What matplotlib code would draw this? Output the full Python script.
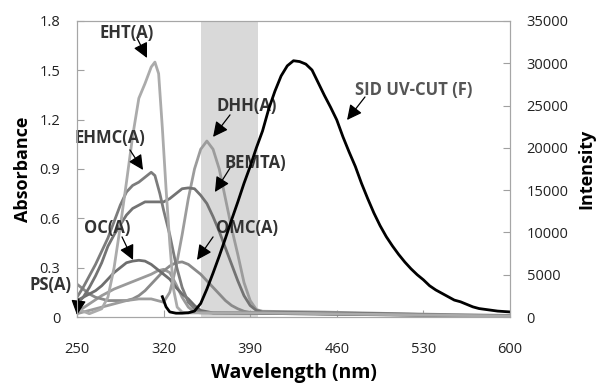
import matplotlib
matplotlib.use("Agg")
import matplotlib.pyplot as plt

plt.rcParams['font.family'] = ['Open Sans', 'DejaVu Sans']

# absorbance spectra (nm, absorbance)
eht_wl = [250, 260, 270, 275, 280, 285, 290, 295, 300, 305, 310, 313, 316, 319, 322, 325, 328, 331, 335, 340, 360, 400, 450, 500, 550, 600]
eht_abs = [0.05, 0.02, 0.05, 0.12, 0.3, 0.55, 0.82, 1.1, 1.33, 1.42, 1.52, 1.55, 1.48, 1.15, 0.78, 0.45, 0.17, 0.06, 0.03, 0.025, 0.025, 0.025, 0.02, 0.015, 0.01, 0.006]

ehmc_wl = [250, 255, 260, 265, 270, 275, 280, 285, 290, 295, 300, 305, 310, 313, 317, 320, 325, 330, 335, 340, 345, 350, 360, 400, 450, 500, 550, 600]
ehmc_abs = [0.12, 0.18, 0.25, 0.32, 0.40, 0.48, 0.58, 0.68, 0.76, 0.80, 0.82, 0.85, 0.88, 0.86, 0.75, 0.65, 0.5, 0.32, 0.18, 0.09, 0.05, 0.03, 0.025, 0.025, 0.02, 0.015, 0.01, 0.006]

bemt_wl = [250, 255, 260, 265, 270, 275, 280, 285, 290, 295, 300, 305, 310, 315, 320, 325, 330, 335, 340, 345, 350, 355, 360, 365, 370, 375, 380, 385, 390, 395, 400, 450, 500, 550, 600]
bemt_abs = [0.08, 0.12, 0.18, 0.25, 0.33, 0.43, 0.5, 0.56, 0.62, 0.66, 0.68, 0.70, 0.70, 0.70, 0.70, 0.72, 0.75, 0.78, 0.785, 0.78, 0.74, 0.69, 0.61, 0.52, 0.42, 0.32, 0.22, 0.13, 0.07, 0.04, 0.03, 0.025, 0.02, 0.012, 0.008]

dhh_wl = [250, 260, 270, 280, 290, 300, 310, 315, 320, 325, 330, 335, 340, 345, 350, 355, 360, 365, 370, 375, 380, 385, 390, 395, 400, 450, 500, 550, 600]
dhh_abs = [0.02, 0.04, 0.06, 0.08, 0.1, 0.11, 0.11, 0.1, 0.09, 0.15, 0.3, 0.5, 0.72, 0.9, 1.02, 1.07, 1.02, 0.9, 0.72, 0.54, 0.38, 0.21, 0.1, 0.045, 0.035, 0.03, 0.022, 0.015, 0.01]

oc_wl = [250, 255, 260, 265, 270, 275, 280, 285, 290, 295, 300, 305, 310, 315, 320, 325, 330, 335, 340, 345, 350, 360, 400, 450, 500, 550, 600]
oc_abs = [0.1, 0.12, 0.14, 0.16, 0.19, 0.23, 0.27, 0.3, 0.33, 0.34, 0.345, 0.34, 0.32, 0.29, 0.26, 0.23, 0.18, 0.14, 0.11, 0.07, 0.04, 0.025, 0.022, 0.018, 0.013, 0.009, 0.005]

omc_wl = [250, 255, 260, 265, 270, 275, 280, 285, 290, 295, 300, 305, 310, 315, 320, 325, 330, 335, 340, 345, 350, 355, 360, 365, 370, 375, 380, 385, 390, 400, 450, 500, 550, 600]
omc_abs = [0.2, 0.17, 0.14, 0.12, 0.11, 0.1, 0.1, 0.1, 0.1, 0.11, 0.13, 0.16, 0.2, 0.24, 0.28, 0.31, 0.33, 0.335, 0.32, 0.29, 0.26, 0.22, 0.18, 0.14, 0.1, 0.07, 0.05, 0.035, 0.028, 0.025, 0.02, 0.016, 0.011, 0.007]

ps_wl = [250, 260, 270, 280, 290, 300, 310, 315, 320, 325, 330, 335, 340, 345, 350, 400, 450, 500, 550, 600]
ps_abs = [0.03, 0.08, 0.13, 0.17, 0.2, 0.23, 0.26, 0.28, 0.29, 0.27, 0.2, 0.12, 0.06, 0.03, 0.025, 0.022, 0.018, 0.014, 0.01, 0.006]

# fluorescence of SID UV-CUT (nm, intensity)
fl_wl = [319, 322, 325, 330, 335, 340, 345, 350, 355, 360, 365, 370, 375, 380, 385, 390, 395, 400, 405, 410,
         415, 420, 425, 430, 435, 440, 445, 450, 455, 460, 465, 470, 475, 480, 485, 490, 495, 500, 505, 510,
         515, 520, 525, 530, 535, 540, 545, 550, 555, 560, 565, 570, 575, 580, 585, 590, 595, 600]
fl_int = [2400, 1200, 600, 450, 450, 500, 700, 1600, 3300, 5200, 7200, 9300, 11500, 13600, 15800, 17800, 20000, 22000, 24600, 26700,
          28500, 29700, 30300, 30200, 29900, 29200, 27700, 26200, 24800, 23300, 21300, 19500, 17800, 15800, 14000, 12300, 10800, 9500, 8400, 7400,
          6500, 5700, 5000, 4400, 3700, 3200, 2800, 2400, 2000, 1800, 1500, 1200, 1000, 900, 800, 700, 650, 600]

fig = plt.figure(figsize=(6.09, 3.85), dpi=100)
ax = fig.add_axes([0.1264, 0.1766, 0.7110, 0.7689])

ax.axvspan(350, 396, color='#d9d9d9', zorder=0, lw=0)

lw = 2.0
ax.plot(ps_wl, ps_abs, color='#9a9a9a', lw=lw)
ax.plot(omc_wl, omc_abs, color='#8a8a8a', lw=lw)
ax.plot(oc_wl, oc_abs, color='#6e6e6e', lw=lw)
ax.plot(dhh_wl, dhh_abs, color='#9c9c9c', lw=lw)
ax.plot(bemt_wl, bemt_abs, color='#737373', lw=lw)
ax.plot(ehmc_wl, ehmc_abs, color='#7c7c7c', lw=lw)
ax.plot(eht_wl, eht_abs, color='#ababab', lw=lw)

ax.set_xlim(250, 600)
ax.set_ylim(0, 1.8)
ax.set_xticks([250, 320, 390, 460, 530, 600])
ax.set_yticks([0, 0.3, 0.6, 0.9, 1.2, 1.5, 1.8])
ax.set_yticklabels(['0', '0.3', '0.6', '0.9', '1.2', '1.5', '1.8'])
ax.tick_params(direction='in', length=5, color='#a0a0a0', labelsize=10.5, labelcolor='#222222')
ax.tick_params(axis='x', pad=18)
ax.tick_params(axis='y', pad=12)
for s in ax.spines.values():
    s.set_color('#a6a6a6')
ax.set_xlabel('Wavelength (nm)', fontsize=14, fontweight='bold', labelpad=4)
ax.set_ylabel('Absorbance', fontsize=13, fontweight='bold', labelpad=5)

ax2 = ax.twinx()
ax2.plot(fl_wl, fl_int, color='black', lw=2.0)
ax2.set_ylim(0, 35000)
ax2.set_yticks(range(0, 35001, 5000))
ax2.tick_params(direction='in', length=5, color='#a0a0a0', labelsize=10.5, labelcolor='#222222', pad=12)
for s in ax2.spines.values():
    s.set_color('#a6a6a6')
ax2.set_ylabel('Intensity', fontsize=13, fontweight='bold', labelpad=6)

# labels with arrows (text position, arrow start, arrow tip) in absorbance units
labels = ['EHT(A)', 'DHH(A)', 'EHMC(A)', 'BEMTA)', 'OC(A)', 'OMC(A)', 'PS(A)', 'SID UV-CUT (F)']
text_xy = [(290.4, 1.727), (387.4, 1.283), (276.7, 1.089), (393.9, 0.937), (274.3, 0.541), (387.4, 0.541), (229, 0.195), (522.4, 1.381)]
start_xy = [(298.5, 1.697), (373.7, 1.229), (292.8, 1.016), (373.7, 0.906), (286.4, 0.487), (360, 0.487), (251.5, 0.11), (482.8, 1.338)]
tip_xy = [(306.6, 1.575), (360, 1.095), (303.4, 0.894), (361.5, 0.76), (295.3, 0.347), (347, 0.347), (250, 0.012), (468.3, 1.198)]

for lab, t, s, p in zip(labels, text_xy, start_xy, tip_xy):
    ax.annotate('', xy=p, xytext=s, annotation_clip=False,
                arrowprops=dict(arrowstyle='-|>,head_length=0.9,head_width=0.45', color='black', lw=0.9, shrinkA=0, shrinkB=0),
                zorder=5)
    ax.text(t[0], t[1], lab, ha='center', va='center', fontsize=12, fontweight='bold',
            color='#333333' if 'SID' not in lab else '#555555', clip_on=False, zorder=6)

fig.savefig('out.png', dpi=100)
